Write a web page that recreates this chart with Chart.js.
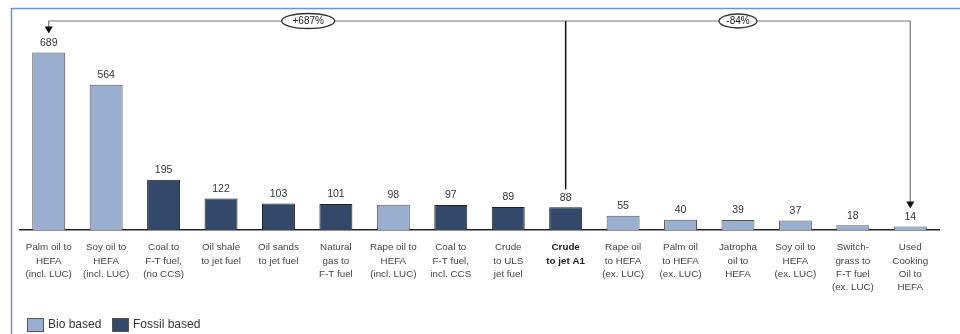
<!DOCTYPE html>
<html>
<head>
<meta charset="utf-8">
<script src="https://cdn.jsdelivr.net/npm/chart.js@4"></script>
<style>
  html, body { margin: 0; padding: 0; background: #fff; }
  #wrap { width: 960px; height: 334px; }
</style>
</head>
<body>
<div id="wrap"><canvas id="chart" width="960" height="334"></canvas></div>
<script>
// Pathway names, one array entry per label line
const pathways = [
    ['Palm oil to', 'HEFA', '(incl. LUC)'],
    ['Soy oil to', 'HEFA', '(incl. LUC)'],
    ['Coal to', 'F-T fuel,', '(no CCS)'],
    ['Oil shale', 'to jet fuel'],
    ['Oil sands', 'to jet fuel'],
    ['Natural', 'gas to', 'F-T fuel'],
    ['Rape oil to', 'HEFA', '(incl. LUC)'],
    ['Coal to', 'F-T fuel,', 'incl. CCS'],
    ['Crude', 'to ULS', 'jet fuel'],
    ['Crude', 'to jet A1'],
    ['Rape oil', 'to HEFA', '(ex. LUC)'],
    ['Palm oil', 'to HEFA', '(ex. LUC)'],
    ['Jatropha', 'oil to', 'HEFA'],
    ['Soy oil to', 'HEFA', '(ex. LUC)'],
    ['Switch-', 'grass to', 'F-T fuel', '(ex. LUC)'],
    ['Used', 'Cooking', 'Oil to', 'HEFA']
];
const emissions = [689, 564, 195, 122, 103, 101, 98, 97, 89, 88, 55, 40, 39, 37, 18, 14];
const feedstock = ['bio', 'bio', 'fossil', 'fossil', 'fossil', 'fossil', 'bio', 'fossil',
                   'fossil', 'fossil', 'bio', 'bio', 'bio', 'bio', 'bio', 'bio'];
const legendLabels = ['Bio based', 'Fossil based'];

// Comparison against the fossil reference pathway
const referenceIndex = 9;
const highIndex = 0;
const lowIndex = 15;
const highChange = '+687%';
const lowChange = '-84%';

const FONT = '"Liberation Sans", Arial, sans-serif';
const BIO = '#9aafd0';
const FOSSIL = '#34496a';
const colorFor = kind => kind === 'bio' ? BIO : FOSSIL;

function ellipseLabel(ctx, x, y, w, h, text) {
    ctx.beginPath();
    ctx.ellipse(x, y, w / 2, h / 2, 0, 0, Math.PI * 2);
    ctx.fillStyle = '#fff';
    ctx.fill();
    ctx.strokeStyle = '#333';
    ctx.lineWidth = 1.3;
    ctx.stroke();
    ctx.fillStyle = '#222';
    ctx.font = '10px ' + FONT;
    ctx.textAlign = 'center';
    ctx.textBaseline = 'middle';
    ctx.fillText(text, x, y + 0.5);
}

function arrowDown(ctx, x, y) {
    ctx.beginPath();
    ctx.moveTo(x - 4, y - 7);
    ctx.lineTo(x + 4, y - 7);
    ctx.lineTo(x, y);
    ctx.closePath();
    ctx.fill();
}

const decorations = {
    id: 'decorations',
    beforeDraw(chart) {
        const ctx = chart.ctx;
        ctx.save();
        // blue frame
        ctx.strokeStyle = '#6b94d6';
        ctx.lineWidth = 1.5;
        ctx.strokeRect(11.5, 8.5, 960, 340);
        ctx.restore();
    },
    afterDatasetsDraw(chart) {
        const ctx = chart.ctx;
        const meta = chart.getDatasetMeta(0);
        const yScale = chart.scales.y;
        ctx.save();

        // value labels above bars
        ctx.font = '10.5px ' + FONT;
        ctx.fillStyle = '#333';
        ctx.textAlign = 'center';
        ctx.textBaseline = 'middle';
        meta.data.forEach((bar, i) => {
            ctx.fillText(String(emissions[i]), bar.x, bar.y - 9.5);
        });

        // change brackets
        const lineY = 21;
        const xHigh = meta.data[highIndex].x;
        const xRef = meta.data[referenceIndex].x;
        const xLow = meta.data[lowIndex].x;
        const yHigh = yScale.getPixelForValue(emissions[highIndex]) - 19;
        const yRef = yScale.getPixelForValue(emissions[referenceIndex]) - 18;
        const yLow = yScale.getPixelForValue(emissions[lowIndex]) - 18;

        ctx.strokeStyle = '#777';
        ctx.lineWidth = 1.2;
        ctx.beginPath();
        ctx.moveTo(xHigh, yHigh - 6);
        ctx.lineTo(xHigh, lineY);
        ctx.lineTo(xLow, lineY);
        ctx.lineTo(xLow, yLow - 6);
        ctx.stroke();

        ctx.strokeStyle = '#111';
        ctx.lineWidth = 1.5;
        ctx.beginPath();
        ctx.moveTo(xRef, lineY);
        ctx.lineTo(xRef, yRef);
        ctx.stroke();

        ctx.fillStyle = '#111';
        arrowDown(ctx, xHigh, yHigh);
        arrowDown(ctx, xLow, yLow);

        ellipseLabel(ctx, (xHigh + xRef) / 2 + 1, lineY, 53, 15, highChange);
        ellipseLabel(ctx, (xRef + xLow) / 2, lineY, 38, 14, lowChange);

        // legend
        const items = [[27, BIO, legendLabels[0]], [112, FOSSIL, legendLabels[1]]];
        ctx.font = '12px ' + FONT;
        ctx.textAlign = 'left';
        items.forEach(([x, color, text]) => {
            ctx.fillStyle = color;
            ctx.fillRect(x, 318, 16, 13);
            ctx.strokeStyle = '#555';
            ctx.lineWidth = 1;
            ctx.strokeRect(x + 0.5, 318.5, 16, 13);
            ctx.fillStyle = '#333';
            ctx.fillText(text, x + 21, 325);
        });
        ctx.restore();
    }
};

new Chart(document.getElementById('chart'), {
    type: 'bar',
    data: {
        labels: pathways,
        datasets: [{
            data: emissions,
            backgroundColor: feedstock.map(colorFor),
            borderColor: feedstock.map(k => k === 'bio' ? '#555' : '#222'),
            borderWidth: 1,
            barPercentage: 0.574,
            categoryPercentage: 1
        }]
    },
    options: {
        responsive: false,
        animation: false,
        layout: { padding: { left: 20, right: 21, top: 24, bottom: 0 } },
        plugins: {
            legend: { display: false },
            tooltip: { enabled: false }
        },
        scales: {
            y: { display: false, min: 0, max: 800 },
            x: {
                grid: { display: false },
                border: { display: true, color: '#222', width: 1.5 },
                ticks: {
                    maxRotation: 0,
                    autoSkip: false,
                    padding: 3,
                    color: c => c.index === referenceIndex ? '#222' : '#444',
                    font: c => ({
                        family: FONT,
                        size: 9.8,
                        lineHeight: 1.36,
                        weight: c.index === referenceIndex ? 'bold' : 'normal'
                    })
                },
                afterFit: scale => { scale.height = 104; }
            }
        }
    },
    plugins: [decorations]
});
</script>
</body>
</html>
